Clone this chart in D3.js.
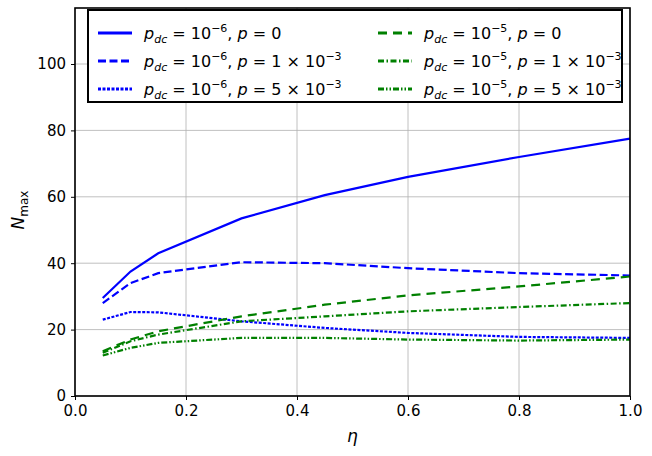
<!DOCTYPE html><html><head><meta charset="utf-8"><script src="https://cdn.jsdelivr.net/npm/d3@7"></script>
<style>body{margin:0;background:#fff}text{font-family:"DejaVu Sans";}</style></head><body><svg id="c" width="652" height="456"></svg><script>
const eta=[0.05,0.1,0.15,0.3,0.45,0.6,0.8,1.0];
const b0=[29.5,37.5,43,53.5,60.5,66,72,77.5];
const b1=[28,34,37,40.3,40,38.5,37,36.3];
const b5=[23,25.3,25.2,22.5,20.5,19,17.8,17.5];
const g0=[13.5,17,19.5,24,27.5,30.3,33,36];
const g1=[13,16.5,18.5,22.5,24,25.5,26.8,28];
const g5=[12.2,14.5,16,17.5,17.5,17,16.7,17];
const xTicks=[0,0.2,0.4,0.6,0.8,1.0], yTicks=[0,20,40,60,80,100];
const series=[
 {v:b0,c:"blue",d:null,exp:"−6",p:"0"},
 {v:b1,c:"blue",d:"8,3.5",exp:"−6",p:"1"},
 {v:b5,c:"blue",d:"3,1.5",exp:"−6",p:"5"},
 {v:g0,c:"green",d:"9,6",exp:"−5",p:"0"},
 {v:g1,c:"green",d:"6,2.5,1.5,2.5",exp:"−5",p:"1"},
 {v:g5,c:"green",d:"6,2,1.5,2,1.5,2",exp:"−5",p:"5"}];
const svg=d3.select("#c");
const L=75,R=630,T=8,B=396;
const x=d3.scaleLinear().domain([0,1]).range([L,R]);
const y=d3.scaleLinear().domain([0,100]).range([B,B-332]);
svg.append("g").selectAll("line").data(xTicks).join("line").attr("x1",d=>x(d)).attr("x2",d=>x(d)).attr("y1",T).attr("y2",B).attr("stroke","#b0b0b0").attr("stroke-width",0.8);
svg.append("g").selectAll("line").data(yTicks).join("line").attr("y1",d=>y(d)).attr("y2",d=>y(d)).attr("x1",L).attr("x2",R).attr("stroke","#b0b0b0").attr("stroke-width",0.8);
const line=d3.line().x((d,i)=>x(eta[i])).y(d=>y(d));
series.forEach(s=>svg.append("path").attr("d",line(s.v)).attr("fill","none").attr("stroke",s.c).attr("stroke-width",2.2).attr("stroke-dasharray",s.d));
svg.append("rect").attr("x",L).attr("y",T).attr("width",R-L).attr("height",B-T).attr("fill","none").attr("stroke","#000").attr("stroke-width",1.6);
const xa=svg.append("g").attr("transform",`translate(0,${B})`).call(d3.axisBottom(x).tickValues(xTicks).tickFormat(d3.format(".1f")).tickSize(4).tickPadding(5).tickSizeOuter(0));
const ya=svg.append("g").attr("transform",`translate(${L},0)`).call(d3.axisLeft(y).tickValues(yTicks).tickSize(4).tickPadding(5).tickSizeOuter(0));
[xa,ya].forEach(a=>{a.select(".domain").remove();a.selectAll("text").attr("font-size",15).attr("font-family","DejaVu Sans").attr("fill","#000");});
svg.append("text").attr("x",(L+R)/2).attr("y",442).attr("text-anchor","middle").attr("font-size",17).attr("font-style","italic").text("η");
const yl=svg.append("text").attr("transform",`translate(24,${(T+B)/2+8}) rotate(-90)`).attr("text-anchor","middle").attr("font-size",17);
yl.append("tspan").attr("font-style","italic").text("N");yl.append("tspan").attr("font-size",12).attr("dy",4).text("max");
const lg=svg.append("g");
lg.append("rect").attr("x",88).attr("y",10).attr("width",534).attr("height",92).attr("fill","#fff").attr("stroke","#000").attr("stroke-width",2);
series.forEach((s,i)=>{
 const col=Math.floor(i/3),row=i%3;
 const lx=98+col*280, ly=33+row*28;
 lg.append("line").attr("x1",lx).attr("x2",lx+34).attr("y1",ly).attr("y2",ly).attr("stroke",s.c).attr("stroke-width",3).attr("stroke-dasharray",s.d);
 const t=lg.append("text").attr("x",lx+46).attr("y",ly+6).attr("font-size",16);
 t.append("tspan").attr("font-style","italic").text("p");
 t.append("tspan").attr("font-style","italic").attr("font-size",11).attr("dy",4).text("dc");
 t.append("tspan").attr("dy",-4).text(" = 10");
 t.append("tspan").attr("font-size",11).attr("dy",-7).text(s.exp);
 t.append("tspan").attr("dy",7).text(", ");
 t.append("tspan").attr("font-style","italic").text("p");
 if(s.p==="0"){t.append("tspan").text(" = 0");}
 else{t.append("tspan").text(` = ${s.p} × 10`);t.append("tspan").attr("font-size",11).attr("dy",-7).text("−3");}
});
</script></body></html>
